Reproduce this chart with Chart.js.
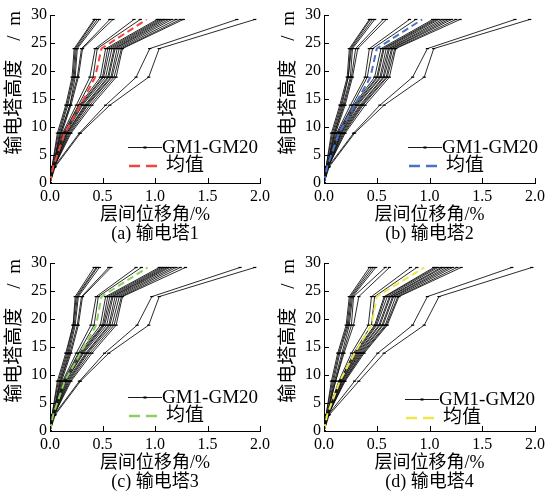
<!DOCTYPE html>
<html>
<head>
<meta charset="utf-8">
<script src="https://cdn.jsdelivr.net/npm/chart.js@4.4.0/dist/chart.umd.min.js"></script>
<style>
  body { margin: 0; background: #fff; width: 549px; height: 498px; position: relative; overflow: hidden; }
  canvas { position: absolute; }
</style>
</head>
<body>
<canvas id="c1" width="274" height="250" style="left:0;top:0"></canvas>
<canvas id="c2" width="275" height="250" style="left:274px;top:0"></canvas>
<canvas id="c3" width="274" height="250" style="left:0;top:248px"></canvas>
<canvas id="c4" width="275" height="250" style="left:274px;top:248px"></canvas>
<script>
// 高度 (m)
const heights = [0, 2.9, 8.9, 13.9, 18.9, 24.0, 29.2];
const xTicks = [0, 0.5, 1.0, 1.5, 2.0];
const yTicks = [0, 5, 10, 15, 20, 25, 30];

// 层间位移角 (%) — GM1..GM20, one row per record, one column per height
const gmTower1 = [
  [0, 0.02, 0.07, 0.15, 0.21, 0.23, 0.42],
  [0, 0.02, 0.08, 0.16, 0.22, 0.24, 0.43],
  [0, 0.03, 0.09, 0.17, 0.23, 0.25, 0.45],
  [0, 0.03, 0.10, 0.19, 0.24, 0.26, 0.47],
  [0, 0.03, 0.10, 0.19, 0.26, 0.30, 0.57],
  [0, 0.03, 0.11, 0.20, 0.27, 0.31, 0.60],
  [0, 0.03, 0.12, 0.25, 0.38, 0.43, 0.80],
  [0, 0.03, 0.13, 0.27, 0.41, 0.45, 0.86],
  [0, 0.03, 0.13, 0.28, 0.48, 0.53, 1.02],
  [0, 0.03, 0.14, 0.29, 0.50, 0.55, 1.04],
  [0, 0.03, 0.14, 0.30, 0.51, 0.57, 1.06],
  [0, 0.03, 0.15, 0.31, 0.53, 0.59, 1.08],
  [0, 0.04, 0.16, 0.33, 0.55, 0.61, 1.10],
  [0, 0.04, 0.16, 0.34, 0.56, 0.62, 1.13],
  [0, 0.04, 0.17, 0.35, 0.58, 0.64, 1.16],
  [0, 0.04, 0.18, 0.36, 0.59, 0.66, 1.20],
  [0, 0.04, 0.19, 0.38, 0.61, 0.68, 1.24],
  [0, 0.04, 0.20, 0.40, 0.63, 0.69, 1.27],
  [0, 0.04, 0.28, 0.53, 0.82, 0.95, 1.78],
  [0, 0.05, 0.29, 0.57, 0.94, 1.04, 1.95]
];
const gmTower2 = [
  [0, 0.02, 0.07, 0.15, 0.22, 0.24, 0.43],
  [0, 0.02, 0.08, 0.16, 0.23, 0.25, 0.44],
  [0, 0.03, 0.09, 0.17, 0.23, 0.26, 0.46],
  [0, 0.03, 0.10, 0.18, 0.25, 0.27, 0.48],
  [0, 0.03, 0.10, 0.19, 0.26, 0.30, 0.56],
  [0, 0.03, 0.11, 0.20, 0.27, 0.32, 0.59],
  [0, 0.03, 0.12, 0.25, 0.39, 0.43, 0.81],
  [0, 0.03, 0.13, 0.27, 0.41, 0.46, 0.87],
  [0, 0.03, 0.13, 0.28, 0.48, 0.54, 1.03],
  [0, 0.03, 0.14, 0.29, 0.50, 0.56, 1.05],
  [0, 0.03, 0.14, 0.30, 0.51, 0.57, 1.07],
  [0, 0.03, 0.15, 0.31, 0.53, 0.59, 1.09],
  [0, 0.04, 0.16, 0.32, 0.54, 0.61, 1.12],
  [0, 0.04, 0.16, 0.34, 0.56, 0.62, 1.15],
  [0, 0.04, 0.17, 0.35, 0.57, 0.64, 1.18],
  [0, 0.04, 0.18, 0.36, 0.59, 0.65, 1.21],
  [0, 0.04, 0.19, 0.37, 0.60, 0.67, 1.25],
  [0, 0.04, 0.20, 0.39, 0.62, 0.68, 1.29],
  [0, 0.04, 0.28, 0.53, 0.84, 0.98, 1.81],
  [0, 0.05, 0.29, 0.57, 0.95, 1.04, 1.95]
];
const gmTower3 = [
  [0, 0.02, 0.07, 0.15, 0.22, 0.24, 0.42],
  [0, 0.02, 0.08, 0.16, 0.22, 0.25, 0.44],
  [0, 0.03, 0.09, 0.17, 0.23, 0.26, 0.45],
  [0, 0.03, 0.10, 0.18, 0.24, 0.27, 0.47],
  [0, 0.03, 0.10, 0.19, 0.26, 0.30, 0.56],
  [0, 0.03, 0.11, 0.20, 0.27, 0.31, 0.58],
  [0, 0.03, 0.12, 0.25, 0.39, 0.44, 0.82],
  [0, 0.03, 0.13, 0.27, 0.42, 0.46, 0.87],
  [0, 0.03, 0.13, 0.28, 0.48, 0.53, 1.04],
  [0, 0.03, 0.14, 0.29, 0.50, 0.55, 1.06],
  [0, 0.03, 0.14, 0.30, 0.51, 0.57, 1.08],
  [0, 0.03, 0.15, 0.31, 0.52, 0.59, 1.10],
  [0, 0.04, 0.15, 0.32, 0.54, 0.60, 1.12],
  [0, 0.04, 0.16, 0.34, 0.56, 0.62, 1.14],
  [0, 0.04, 0.17, 0.35, 0.57, 0.64, 1.17],
  [0, 0.04, 0.18, 0.36, 0.59, 0.66, 1.20],
  [0, 0.04, 0.19, 0.38, 0.61, 0.68, 1.24],
  [0, 0.04, 0.20, 0.40, 0.63, 0.69, 1.29],
  [0, 0.04, 0.28, 0.52, 0.83, 0.97, 1.81],
  [0, 0.05, 0.29, 0.56, 0.94, 1.04, 1.95]
];
const gmTower4 = [
  [0, 0.02, 0.07, 0.13, 0.21, 0.24, 0.43],
  [0, 0.02, 0.08, 0.14, 0.22, 0.25, 0.45],
  [0, 0.03, 0.09, 0.15, 0.23, 0.26, 0.47],
  [0, 0.03, 0.10, 0.17, 0.24, 0.27, 0.49],
  [0, 0.03, 0.11, 0.18, 0.26, 0.28, 0.58],
  [0, 0.03, 0.11, 0.19, 0.28, 0.33, 0.62],
  [0, 0.03, 0.14, 0.26, 0.42, 0.45, 0.82],
  [0, 0.03, 0.15, 0.28, 0.45, 0.48, 0.88],
  [0, 0.03, 0.15, 0.29, 0.48, 0.57, 1.04],
  [0, 0.03, 0.15, 0.30, 0.49, 0.58, 1.06],
  [0, 0.03, 0.16, 0.31, 0.50, 0.60, 1.08],
  [0, 0.03, 0.16, 0.32, 0.52, 0.62, 1.11],
  [0, 0.04, 0.17, 0.33, 0.53, 0.63, 1.13],
  [0, 0.04, 0.17, 0.34, 0.55, 0.65, 1.16],
  [0, 0.04, 0.18, 0.35, 0.56, 0.66, 1.19],
  [0, 0.04, 0.19, 0.36, 0.58, 0.68, 1.22],
  [0, 0.04, 0.19, 0.37, 0.59, 0.70, 1.26],
  [0, 0.04, 0.20, 0.38, 0.60, 0.71, 1.30],
  [0, 0.04, 0.29, 0.51, 0.84, 0.98, 1.78],
  [0, 0.05, 0.33, 0.57, 0.95, 1.09, 1.97]
];

// 均值
const meanTower1 = [0, 0.03, 0.14, 0.29, 0.43, 0.49, 0.92];
const meanTower2 = [0, 0.03, 0.14, 0.29, 0.44, 0.50, 0.93];
const meanTower3 = [0, 0.03, 0.14, 0.29, 0.44, 0.49, 0.93];
const meanTower4 = [0, 0.03, 0.15, 0.29, 0.45, 0.50, 0.95];

const meanColors = ['#f0463c', '#4a72c8', '#8ed05e', '#ece84a'];
const captions = ['(a) 输电塔1', '(b) 输电塔2', '(c) 输电塔3', '(d) 输电塔4'];

const FONT = '"Liberation Serif", "Noto Sans CJK SC", serif';

function toPoints(row) {
    return row.map((v, i) => ({ x: v, y: heights[i] }));
}

// ticks pointing into the plot
const inwardTicks = {
    id: 'inwardTicks',
    afterDraw(chart) {
        const { ctx, chartArea, scales } = chart;
        ctx.save();
        ctx.strokeStyle = '#000';
        ctx.lineWidth = 1;
        ctx.beginPath();
        xTicks.forEach(v => {
            const px = Math.round(scales.x.getPixelForValue(v)) + 0.5;
            ctx.moveTo(px, chartArea.bottom);
            ctx.lineTo(px, chartArea.bottom - 5);
        });
        yTicks.forEach(v => {
            const py = Math.round(scales.y.getPixelForValue(v)) + 0.5;
            ctx.moveTo(chartArea.left, py);
            ctx.lineTo(chartArea.left + 5, py);
        });
        ctx.stroke();
        ctx.restore();
    }
};

// legend inside the plot, lower right
const gmLegend = {
    id: 'gmLegend',
    afterDraw(chart, args, opts) {
        const { ctx, chartArea } = chart;
        const x0 = chartArea.left + opts.dx;
        const y1 = chartArea.top + opts.dy;
        const y2 = y1 + 19;
        ctx.save();
        ctx.font = '19px ' + FONT;
        ctx.textBaseline = 'middle';
        ctx.fillStyle = '#000';
        // GM1-GM20
        ctx.strokeStyle = '#1a1a1a';
        ctx.lineWidth = 1;
        ctx.beginPath();
        ctx.moveTo(x0, y1 + 0.5);
        ctx.lineTo(x0 + 34, y1 + 0.5);
        ctx.stroke();
        ctx.fillRect(x0 + 15.5, y1 - 0.5, 3, 2);
        ctx.fillText('GM1-GM20', x0 + 34, y1 + 1);
        // 均值
        ctx.strokeStyle = opts.color;
        ctx.lineWidth = 2.5;
        ctx.setLineDash([11, 6]);
        ctx.beginPath();
        ctx.moveTo(x0 + 1, y2);
        ctx.lineTo(x0 + 34, y2);
        ctx.stroke();
        ctx.setLineDash([]);
        ctx.fillText('均值', x0 + 38, y2);
        ctx.restore();
    }
};

const towers = [
    { id: 'c1', gm: gmTower1, mean: meanTower1, legend: { dx: 78, dy: 132 } },
    { id: 'c2', gm: gmTower2, mean: meanTower2, legend: { dx: 84, dy: 132 } },
    { id: 'c3', gm: gmTower3, mean: meanTower3, legend: { dx: 78, dy: 134 } },
    { id: 'c4', gm: gmTower4, mean: meanTower4, legend: { dx: 81, dy: 136 } }
];

towers.forEach((t, k) => {
    const datasets = [{
        data: toPoints(t.mean),
        showLine: true,
        borderColor: meanColors[k],
        borderWidth: 2,
        borderDash: [7, 4],
        pointRadius: 0,
        order: 0
    }];
    t.gm.forEach(row => {
        datasets.push({
            data: toPoints(row),
            showLine: true,
            borderColor: 'rgba(20,20,20,0.9)',
            borderWidth: 1,
            pointStyle: 'line',
            pointRadius: 1.6,
            pointBorderWidth: 1.2,
            pointBorderColor: '#000',
            order: 1
        });
    });

    new Chart(document.getElementById(t.id), {
        type: 'scatter',
        data: { datasets },
        options: {
            responsive: false,
            animation: false,
            layout: { padding: { left: 0, top: 15, right: 12, bottom: 0 } },
            plugins: {
                legend: { display: false },
                tooltip: { enabled: false },
                gmLegend: { dx: t.legend.dx, dy: t.legend.dy, color: meanColors[k] }
            },
            scales: {
                x: {
                    type: 'linear',
                    min: 0,
                    max: 2,
                    afterFit: s => { s.height = 67; },
                    grid: { display: false, drawTicks: false },
                    border: { display: true, color: '#000', width: 1 },
                    ticks: {
                        stepSize: 0.5,
                        padding: 4,
                        color: '#000',
                        font: { family: FONT, size: 16 },
                        callback: v => v.toFixed(1)
                    },
                    title: {
                        display: true,
                        text: ['层间位移角/%', captions[k]],
                        color: '#000',
                        font: { family: FONT, size: 18, lineHeight: 1.05 },
                        padding: { top: 0, bottom: 6 }
                    }
                },
                y: {
                    min: 0,
                    max: 30,
                    afterFit: s => { s.width = 50; },
                    grid: { display: false, drawTicks: false },
                    border: { display: true, color: '#000', width: 1 },
                    ticks: {
                        stepSize: 5,
                        padding: 3,
                        color: '#000',
                        font: { family: FONT, size: 16 }
                    },
                    title: {
                        display: true,
                        text: '\u3000\u2002\u2009输电塔高度\u3000/\u2002m',
                        color: '#000',
                        font: { family: FONT, size: 19, lineHeight: 1.2 },
                        padding: { top: 4, bottom: 0 }
                    }
                }
            }
        },
        plugins: [inwardTicks, gmLegend]
    });
});
</script>
</body>
</html>
